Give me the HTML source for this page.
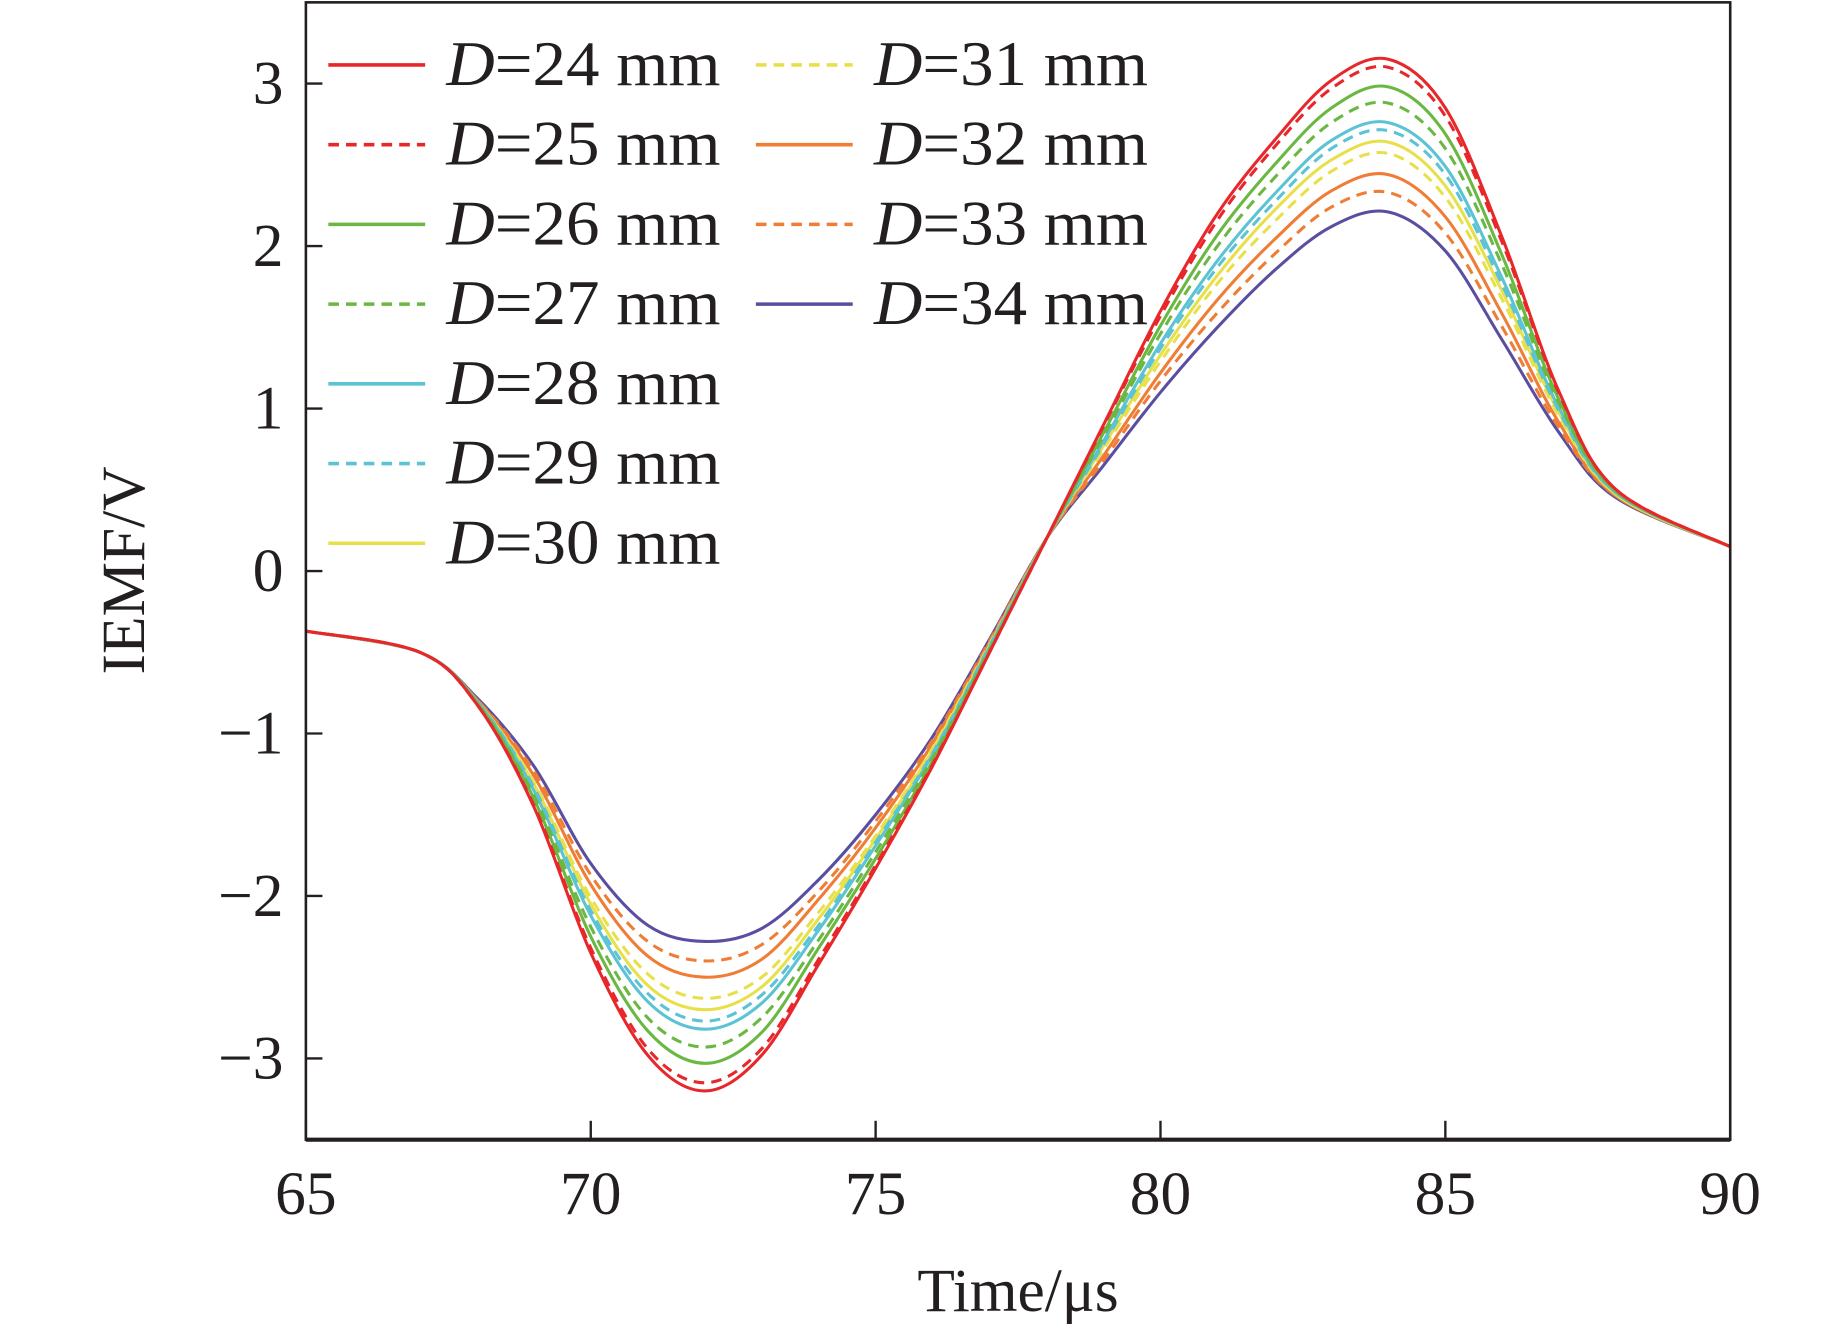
<!DOCTYPE html>
<html><head><meta charset="utf-8"><style>
html,body{margin:0;padding:0;background:#fff;}
svg{display:block;}
text{font-family:"Liberation Serif",serif;fill:#231f20;}
</style></head><body>
<svg id="chart" width="1843" height="1327" viewBox="0 0 1560.5 1123.6" preserveAspectRatio="none" xmlns="http://www.w3.org/2000/svg">
<g id="series"></g>
<g id="axes"></g>
<g id="legend"></g>
</svg>
<script>
const times = [65,67,68,69,70,71,72,73,74,75,76,77,78,79,80,81,82,83,84,85,86,87,88,90];
const labels = ["D=24 mm","D=25 mm","D=26 mm","D=27 mm","D=28 mm","D=29 mm","D=30 mm","D=31 mm","D=32 mm","D=33 mm","D=34 mm"];
const d24 = [-0.37,-0.5,-0.82,-1.45,-2.35,-2.98,-3.2,-2.98,-2.42,-1.83,-1.2,-0.5,0.2,0.9,1.6,2.2,2.65,3.02,3.15,2.85,2.05,1.1,0.5,0.15];
const d25 = [-0.37,-0.5,-0.82,-1.44,-2.32,-2.94,-3.15,-2.94,-2.39,-1.81,-1.19,-0.5,0.2,0.89,1.57,2.16,2.61,2.97,3.10,2.80,2.02,1.09,0.5,0.15];
const d26 = [-0.37,-0.5,-0.81,-1.40,-2.25,-2.83,-3.03,-2.84,-2.32,-1.77,-1.17,-0.49,0.2,0.85,1.51,2.07,2.50,2.85,2.98,2.69,1.94,1.05,0.49,0.15];
const d27 = [-0.37,-0.5,-0.81,-1.38,-2.19,-2.75,-2.93,-2.75,-2.27,-1.73,-1.15,-0.48,0.2,0.83,1.46,2.00,2.42,2.76,2.88,2.60,1.88,1.03,0.49,0.15];
const d28 = [-0.37,-0.5,-0.80,-1.35,-2.12,-2.65,-2.82,-2.66,-2.21,-1.69,-1.13,-0.47,0.2,0.80,1.40,1.91,2.32,2.65,2.76,2.49,1.80,1.0,0.48,0.15];
const d29 = [-0.37,-0.5,-0.80,-1.33,-2.09,-2.60,-2.77,-2.61,-2.18,-1.67,-1.12,-0.46,0.2,0.78,1.37,1.87,2.27,2.60,2.71,2.44,1.76,0.98,0.48,0.15];
const d30 = [-0.37,-0.5,-0.80,-1.31,-2.05,-2.55,-2.70,-2.56,-2.14,-1.65,-1.10,-0.46,0.2,0.77,1.33,1.82,2.22,2.53,2.64,2.37,1.72,0.97,0.47,0.15];
const d31 = [-0.37,-0.5,-0.80,-1.30,-2.01,-2.48,-2.63,-2.50,-2.10,-1.63,-1.09,-0.45,0.2,0.75,1.29,1.77,2.15,2.46,2.57,2.30,1.67,0.95,0.47,0.15];
const d32 = [-0.37,-0.5,-0.79,-1.26,-1.93,-2.37,-2.50,-2.39,-2.02,-1.58,-1.06,-0.44,0.2,0.71,1.22,1.67,2.04,2.34,2.44,2.18,1.58,0.91,0.46,0.15];
const d33 = [-0.37,-0.5,-0.79,-1.23,-1.87,-2.28,-2.40,-2.30,-1.97,-1.54,-1.04,-0.43,0.2,0.68,1.17,1.59,1.95,2.24,2.33,2.08,1.50,0.88,0.46,0.15];
const d34 = [-0.37,-0.5,-0.78,-1.2,-1.8,-2.18,-2.28,-2.2,-1.9,-1.5,-1.02,-0.42,0.2,0.65,1.1,1.5,1.85,2.12,2.21,1.97,1.42,0.85,0.45,0.15];
const xTicks = [65,70,75,80,85,90];
const yTicks = [-3,-2,-1,0,1,2,3];
const yTickLabels = ["\u22123","\u22122","\u22121","0","1","2","3"];

const allSeries = [d24,d25,d26,d27,d28,d29,d30,d31,d32,d33,d34];
const colors = ["#e8272a","#e8272a","#6ab842","#6ab842","#5bc3d3","#5bc3d3","#e8e04a","#e8e04a","#ef7d35","#ef7d35","#5a4ea0"];
const NS = "http://www.w3.org/2000/svg";
const L=259,R=1465,T=2,B=965, X0=65,X1=90,Y0=-3.5,Y1=3.5;
const xs = v => L + (v-X0)/(X1-X0)*(R-L);
const ys = v => B - (v-Y0)/(Y1-Y0)*(B-T);
function mk(tag, attrs, parent){const e=document.createElementNS(NS,tag);for(const k in attrs)e.setAttribute(k,attrs[k]);parent.appendChild(e);return e;}
function pathFor(vals){
  const p = times.map((t,i)=>[xs(t),ys(vals[i])]);
  let d = "M"+p[0][0].toFixed(2)+","+p[0][1].toFixed(2);
  for(let i=0;i<p.length-1;i++){
    const p0=p[Math.max(i-1,0)],p1=p[i],p2=p[i+1],p3=p[Math.min(i+2,p.length-1)];
    const c1=[p1[0]+(p2[0]-p0[0])/6,p1[1]+(p2[1]-p0[1])/6];
    const c2=[p2[0]-(p3[0]-p1[0])/6,p2[1]-(p3[1]-p1[1])/6];
    d+=" C"+c1.map(v=>v.toFixed(2))+" "+c2.map(v=>v.toFixed(2))+" "+p2.map(v=>v.toFixed(2));
  }
  return d;
}
const sg=document.getElementById("series");
for(let s=allSeries.length-1;s>=0;s--){
  const e=mk("path",{d:pathFor(allSeries[s]),fill:"none",stroke:colors[s],"stroke-width":2.6,"stroke-dasharray":(s%2===1)?"9,6":"none"},sg);
  
  
}
const ag=document.getElementById("axes");
const fr=mk("rect",{x:L,y:T,width:R-L,height:B-T,fill:"none",stroke:"#231f20","stroke-width":2.2},ag);


const bl=mk("line",{x1:L,x2:R,y1:B,y2:B,stroke:"#231f20","stroke-width":3.5},ag);


xTicks.forEach(v=>{
  const t=mk("line",{x1:xs(v),x2:xs(v),y1:B,y2:B-16,stroke:"#231f20","stroke-width":2},ag);
  
  
  const tx=mk("text",{x:xs(v),y:1028,"text-anchor":"middle","font-size":52},ag);
  tx.textContent=String(v);
  
  
});
yTicks.forEach((v,i)=>{
  const t=mk("line",{x1:L,x2:L+14,y1:ys(v),y2:ys(v),stroke:"#231f20","stroke-width":2},ag);
  
  
  const tx=mk("text",{x:240,y:ys(v)+17,"text-anchor":"end","font-size":52},ag);
  tx.textContent=yTickLabels[i];
  
  
});
const xt=mk("text",{x:862,y:1110,"text-anchor":"middle","font-size":52},ag);
xt.textContent="Time/\u03bcs";


const yt=mk("text",{x:0,y:0,"text-anchor":"middle","font-size":52,transform:"translate(122,483) rotate(-90)"},ag);
yt.textContent="IEMF/V";


const lg=document.getElementById("legend");
labels.forEach((lab,i)=>{
  const col=i<7?0:1, row=i<7?i:i-7;
  const lx=col===0?278:640, y=55+row*67.5;
  const g=mk("g",{},lg);
  
  
  mk("line",{x1:lx,x2:lx+82,y1:y,y2:y,stroke:colors[i],"stroke-width":3,"stroke-dasharray":(i%2===1)?"9,6":"none"},g);
  const tx=mk("text",{x:lx+100,y:y+17,"font-size":54,textLength:232,lengthAdjust:"spacingAndGlyphs"},g);
  const it=mk("tspan",{"font-style":"italic"},tx); it.textContent="D";
  const rest=mk("tspan",{},tx); rest.textContent=lab.slice(1);
});
</script>
</body></html>
